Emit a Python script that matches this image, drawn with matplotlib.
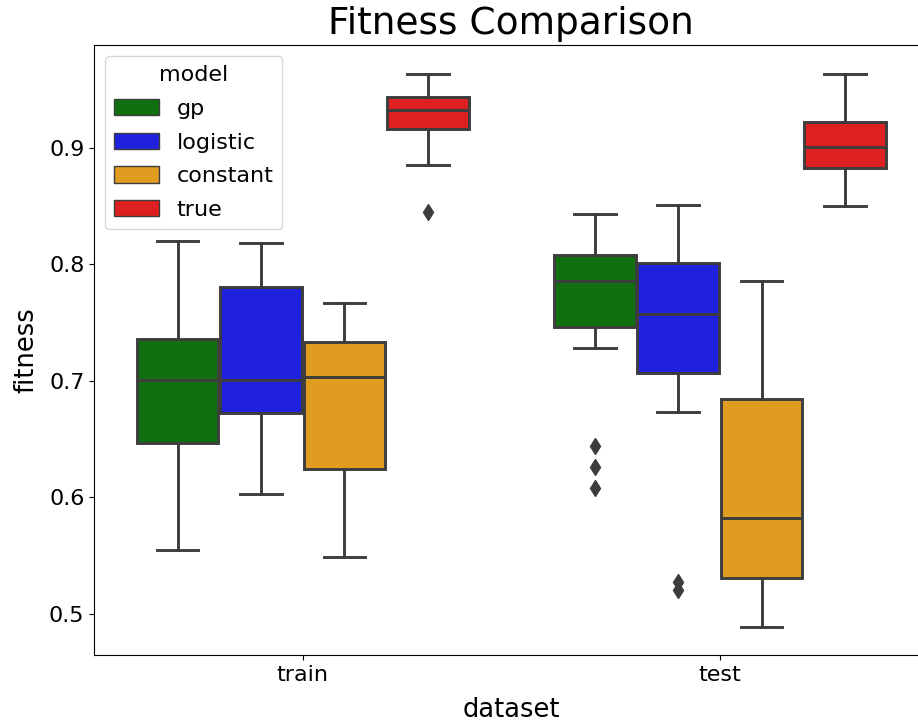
import matplotlib
matplotlib.use("Agg")
import matplotlib.pyplot as plt
from matplotlib.patches import Patch

datasets = ["train", "test"]
models = ["gp", "logistic", "constant", "true"]
colors = ["#107010", "#2020df", "#df9c20", "#df2020"]

# summary stats per dataset, in the order of models
whislo = {"train": [0.555, 0.603, 0.549, 0.885], "test": [0.728, 0.673, 0.489, 0.850]}
q1 = {"train": [0.647, 0.672, 0.624, 0.916], "test": [0.746, 0.707, 0.531, 0.883]}
med = {"train": [0.701, 0.701, 0.703, 0.933], "test": [0.786, 0.757, 0.582, 0.901]}
q3 = {"train": [0.736, 0.781, 0.733, 0.944], "test": [0.808, 0.801, 0.684, 0.922]}
whishi = {"train": [0.820, 0.818, 0.767, 0.9635], "test": [0.843, 0.851, 0.786, 0.9635]}
fliers = {
    "train": [[], [], [], [0.845]],
    "test": [[0.644, 0.626, 0.608], [0.527, 0.520], [], []],
}

edge = "#3d3d3d"
fig, ax = plt.subplots(figsize=(9.18, 7.23), dpi=100)

offsets = [-0.3, -0.1, 0.1, 0.3]
for i, ds in enumerate(datasets):
    for j, m in enumerate(models):
        st = [{
            "whislo": whislo[ds][j], "q1": q1[ds][j], "med": med[ds][j],
            "q3": q3[ds][j], "whishi": whishi[ds][j], "fliers": fliers[ds][j],
        }]
        ax.bxp(st, positions=[i + offsets[j]], widths=0.196, capwidths=0.1,
               patch_artist=True, manage_ticks=False,
               boxprops=dict(facecolor=colors[j], edgecolor=edge, linewidth=2.1),
               medianprops=dict(color=edge, linewidth=2.1),
               whiskerprops=dict(color=edge, linewidth=2.1),
               capprops=dict(color=edge, linewidth=2.1),
               flierprops=dict(marker="d", markerfacecolor=edge, markeredgecolor=edge,
                               markersize=8, linestyle="none"))

ax.set_xlim(-0.5, 1.5)
ax.set_ylim(0.4645, 0.9885)
ax.set_xticks(range(len(datasets)))
ax.set_xticklabels(datasets)
ax.set_yticks([0.5, 0.6, 0.7, 0.8, 0.9])
ax.tick_params(labelsize=16)
ax.set_xlabel("dataset", fontsize=18.5, labelpad=9)
ax.set_ylabel("fitness", fontsize=18.5, labelpad=7)
ax.set_title("Fitness Comparison", fontsize=27, pad=8)

handles = [Patch(facecolor=c, edgecolor=edge, label=m) for c, m in zip(colors, models)]
leg = ax.legend(handles=handles, title="model", loc="upper left", fontsize=16,
                title_fontsize=16, labelspacing=0.62, handleheight=0.75)

fig.subplots_adjust(left=0.1026, right=1.0114, top=0.9378, bottom=0.094)
fig.savefig("out.png")
